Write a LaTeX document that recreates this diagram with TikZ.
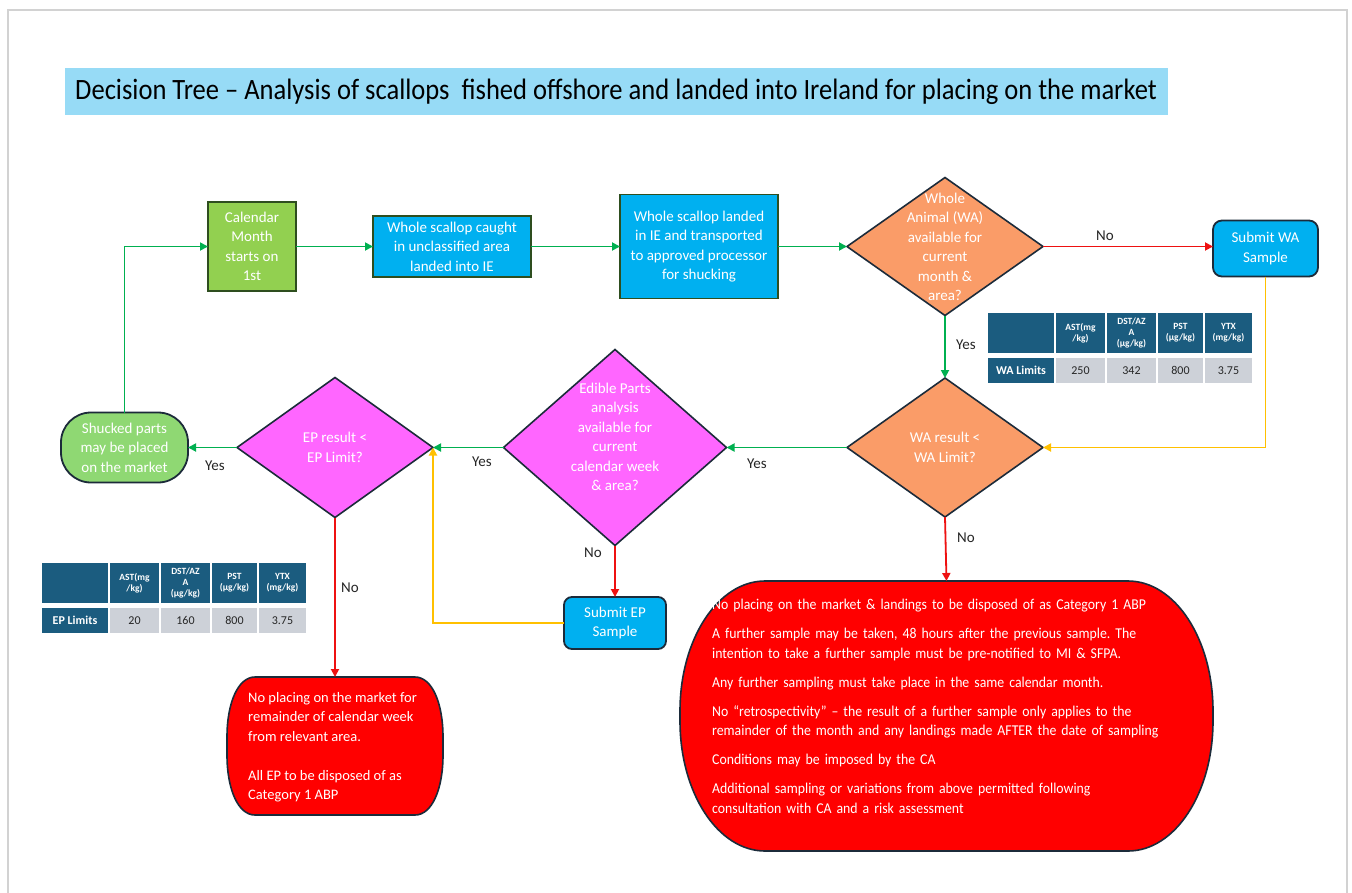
\documentclass[tikz,border=0pt]{standalone}
\usepackage{fontspec}
\usepackage{graphicx}
\setmainfont{Carlito}
\newfontfamily\titlefont{Carlito}[FakeStretch=0.9]
\newfontfamily\narrowfont{Carlito}[FakeStretch=0.92]
\usetikzlibrary{arrows.meta,shapes.geometric}
\frenchspacing
\definecolor{calgreen}{HTML}{92D050}
\definecolor{shuckgreen}{HTML}{8FD873}
\definecolor{boxborder}{HTML}{2E4E1F}
\definecolor{cyanbox}{HTML}{00B0F0}
\definecolor{orangebox}{HTML}{FA9C68}
\definecolor{magbox}{HTML}{FF66FF}
\definecolor{navy}{HTML}{1C2B3A}
\definecolor{redbox}{HTML}{FF0000}
\definecolor{agreen}{HTML}{00B050}
\definecolor{ared}{HTML}{EE1111}
\definecolor{ayellow}{HTML}{FFC000}
\definecolor{tblue}{HTML}{1B5C7F}
\definecolor{tgray}{HTML}{CDD1D8}
\definecolor{titleblue}{HTML}{97DBF6}
\definecolor{pagegray}{HTML}{D2D2D2}
\tikzset{
  nfont/.style={font=\fontsize{15}{19.5}\selectfont},
  box/.style={draw=boxborder, line width=1.8pt, fill=cyanbox, text=white, nfont, align=center, inner sep=0pt, outer sep=0pt},
  subbox/.style={draw=navy, line width=1.8pt, fill=cyanbox, text=white, nfont, align=center, inner sep=0pt, outer sep=0pt, rounded corners=9pt},
  dia/.style={diamond, draw=navy, line width=1.6pt, inner sep=0pt, outer sep=0pt},
  diatext/.style={text=white, nfont, align=center, inner sep=0pt},
  lbl/.style={text=black!85, font=\fontsize{15}{18}\selectfont, inner sep=0pt},
  conn/.style={line width=1.8pt, -{Triangle[length=8pt,width=8pt]}},
  garrow/.style={conn, draw=agreen, color=agreen},
  rarrow/.style={conn, draw=ared, color=ared},
  yarrow/.style={conn, draw=ayellow, color=ayellow},
  th/.style={fill=tblue, text=white, font=\fontsize{9.5}{11}\selectfont\bfseries, align=center, inner sep=0pt, outer sep=0pt, minimum height=40},
  tl/.style={fill=tblue, text=white, font=\fontsize{12}{14}\selectfont\bfseries, inner sep=0pt, outer sep=0pt, minimum height=25},
  td/.style={fill=tgray, text=black!85, font=\fontsize{12}{14}\selectfont, inner sep=0pt, outer sep=0pt, minimum height=25},
  redtext/.style={text=white, font=\narrowfont\fontsize{15}{19.5}\selectfont, align=left, inner sep=0pt}
}
\begin{document}
\begin{tikzpicture}[x=1pt,y=-1pt]
\useasboundingbox[fill=white] (0,0) rectangle (1352,892);
% page outline
\draw[pagegray, line width=2pt] (8,900) -- (8,9.5) -- (1347,9.5) -- (1347,900);
% title
\node[fill=titleblue, minimum width=1103, minimum height=47, inner sep=0pt, outer sep=0pt] (titlebox) at (616.5,91.5) {};
\node[anchor=west, inner sep=0pt, text=black, font=\titlefont\fontsize{29.5}{32}\selectfont] (title) at (75,92) {Decision Tree – Analysis of scallops\ \ fished offshore and landed into Ireland for placing on the market};

% top row
\node[box, fill=calgreen, draw=boxborder, minimum width=88, minimum height=89] (cal) at (252,246.5) {Calendar\\Month\\starts on\\1st};
\node[box, minimum width=158, minimum height=61] (caught) at (452,246.5) {Whole scallop caught\\in unclassified area\\landed into IE};
\node[box, minimum width=158, minimum height=104] (landed) at (699,246.5) {Whole scallop landed\\in IE and transported\\to approved processor\\for shucking};
\node[dia, fill=orangebox, minimum width=196, minimum height=138] (d1) at (945,246.5) {};
\node[diatext] (d1t) at (945,247) {Whole\\Animal (WA)\\available for\\current\\month \&\\area?};
\node[subbox, minimum width=105, minimum height=56] (subwa) at (1265.5,248.5) {Submit WA\\Sample};

% middle row
\node[dia, fill=orangebox, minimum width=196, minimum height=139] (d2) at (945,447.5) {};
\node[diatext] (d2t) at (945,447.5) {WA result <\\WA Limit?};
\node[dia, fill=magbox, minimum width=223, minimum height=196] (d3) at (615,447.5) {};
\node[diatext] (d3t) at (615,437) {Edible Parts\\analysis\\available for\\current\\calendar week\\\& area?};
\node[dia, fill=magbox, minimum width=196, minimum height=140] (d4) at (335,447.5) {};
\node[diatext] (d4t) at (335,447.5) {EP result <\\EP Limit?};
\node[box, fill=shuckgreen, draw=navy, rounded corners=30pt, minimum width=127, minimum height=70] (shuck) at (124.5,447.5) {Shucked parts\\may be placed\\on the market};
\node[subbox, rounded corners=8pt, minimum width=102, minimum height=52] (subep) at (615,623) {Submit EP\\Sample};

% red outcome boxes (shape drawn, node for anchors)
\fill[redbox, draw=navy, line width=1.6pt]
  (765,581) -- (1128,581) .. controls (1175,581) and (1213,639) .. (1213,711)
  -- (1213,721) .. controls (1213,793) and (1175,851) .. (1128,851)
  -- (765,851) .. controls (718,851) and (680,793) .. (680,721)
  -- (680,711) .. controls (680,639) and (718,581) .. (765,581) -- cycle;
\node[minimum width=533, minimum height=270, inner sep=0pt, outer sep=0pt] (redbig) at (946.5,716) {};
\node[redtext, anchor=west, text width=480] (redbigt) at (712,706.5) {No placing on the market \& landings to be disposed of as Category 1 ABP\\[9.5pt]
A further sample may be taken, 48 hours after the previous sample. The\\intention to take a further sample must be pre-notified to MI \& SFPA.\\[9.5pt]
Any further sampling must take place in the same calendar month.\\[9.5pt]
No “retrospectivity” – the result of a further sample only applies to the\\remainder of the month and any landings made AFTER the date of sampling\\[9.5pt]
Conditions may be imposed by the CA\\[9.5pt]
Additional sampling or variations from above permitted following\\consultation with CA and a risk assessment};

\fill[redbox, draw=navy, line width=1.6pt]
  (255,677) -- (415,677) .. controls (432,677) and (443,703) .. (443,737)
  -- (443,755) .. controls (443,789) and (432,815) .. (415,815)
  -- (255,815) .. controls (238,815) and (227,789) .. (227,755)
  -- (227,737) .. controls (227,703) and (238,677) .. (255,677) -- cycle;
\node[minimum width=216, minimum height=138, inner sep=0pt, outer sep=0pt] (redl) at (335,746) {};
\node[redtext, font=\fontsize{14.5}{19.5}\selectfont, anchor=west] (redlt) at (248,747) {No placing on the market for\\remainder of calendar week\\from relevant area.\\[19.5pt]All EP to be disposed of as\\Category 1 ABP};

% tables
\node[th, minimum width=66] (wah0) at (1021,333) {};
\node[th, minimum width=49] (wah1) at (1080.5,333) {AST(mg\\/kg)};
\node[th, minimum width=49] (wah2) at (1131.5,333) {DST/AZ\\A\\(µg/kg)};
\node[th, minimum width=45] (wah3) at (1180.5,333) {PST\\(µg/kg)};
\node[th, minimum width=47] (wah4) at (1228.5,333) {YTX\\(mg/kg)};
\node[tl, minimum width=66] (wad0) at (1021,370.5) {WA Limits};
\node[td, minimum width=49] (wad1) at (1080.5,370.5) {250};
\node[td, minimum width=49] (wad2) at (1131.5,370.5) {342};
\node[td, minimum width=45] (wad3) at (1180.5,370.5) {800};
\node[td, minimum width=47] (wad4) at (1228.5,370.5) {3.75};

\node[th, minimum width=66] (eph0) at (75,583) {};
\node[th, minimum width=49] (eph1) at (134.5,583) {AST(mg\\/kg)};
\node[th, minimum width=49] (eph2) at (185.5,583) {DST/AZ\\A\\(µg/kg)};
\node[th, minimum width=45] (eph3) at (234.5,583) {PST\\(µg/kg)};
\node[th, minimum width=47] (eph4) at (282.5,583) {YTX\\(mg/kg)};
\node[tl, minimum width=66] (epd0) at (75,620.5) {EP Limits};
\node[td, minimum width=49] (epd1) at (134.5,620.5) {20};
\node[td, minimum width=49] (epd2) at (185.5,620.5) {160};
\node[td, minimum width=45] (epd3) at (234.5,620.5) {800};
\node[td, minimum width=47] (epd4) at (282.5,620.5) {3.75};

% connectors
\draw[garrow] (shuck.north) |- (cal.west);
\draw[garrow] (cal.east) -- (caught.west);
\draw[garrow] (caught.east) -- (landed.west);
\draw[garrow] (landed.east) -- (d1.west);
\draw[rarrow] (d1.east) -- (subwa.west |- d1.east);
\draw[garrow] (d1.south) -- (d2.north);
\draw[yarrow] (subwa.south) |- (d2.east);
\draw[garrow] (d2.west) -- (d3.east);
\draw[garrow] (d3.west) -- (d4.east);
\draw[garrow] (d4.west) -- (shuck.east);
\draw[rarrow] (d3.south) -- (subep.north);
\draw[yarrow] (subep.west) -| (d4.east);
\draw[rarrow] (d4.south) -- (redl.north);
\draw[rarrow] (d2.south) -- (redbig.north);

% labels
\node[lbl] (l1) at (1105,236) {No};
\node[lbl] (l2) at (966,345) {Yes};
\node[lbl] (l3) at (757,464) {Yes};
\node[lbl] (l4) at (482,462) {Yes};
\node[lbl] (l5) at (215,466) {Yes};
\node[lbl] (l6) at (593,553) {No};
\node[lbl] (l7) at (350,588) {No};
\node[lbl] (l8) at (966,538) {No};
\end{tikzpicture}
\end{document}
